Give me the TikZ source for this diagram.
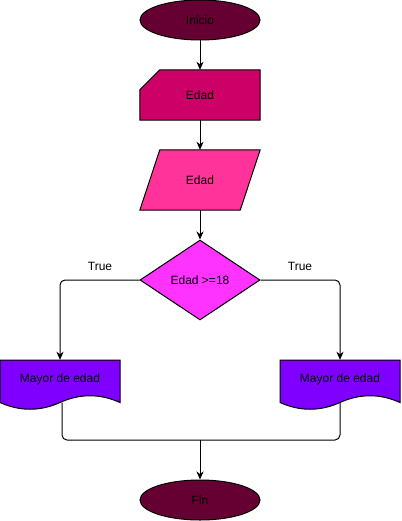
\documentclass[tikz,border=0pt]{standalone}
\usepackage{fontspec}
\setmainfont{Liberation Sans}
\usetikzlibrary{shapes.geometric,arrows.meta,calc}
\definecolor{cterm}{HTML}{660033}
\definecolor{ccard}{HTML}{CC0066}
\definecolor{cpara}{HTML}{FF3399}
\definecolor{cdia}{HTML}{FF33FF}
\definecolor{cdoc}{HTML}{7F00FF}
\tikzset{
  shp/.style={draw=black,line width=1pt},
  lbl/.style={font=\fontsize{12}{14}\selectfont,text=black,inner sep=0pt},
  box/.style={lbl,minimum width=120pt,inner sep=0pt},
  term/.style={box,ellipse,shp,fill=cterm,minimum height=40pt},
  decision/.style={box,diamond,shp,fill=cdia,minimum height=80pt},
  conn/.style={line width=1pt,draw=black},
  arr/.style={conn,-{Stealth[length=8pt,width=7pt,inset=2.5pt]}}
}
\begin{document}
\begin{tikzpicture}[x=1pt,y=-1pt]
\useasboundingbox (0,0) rectangle (401,521);
% terminals
\node[term] (inicio) at (200,20) {Inicio};
\node[term] (fin) at (200,500) {Fin};
% card (input)
\node[box,minimum height=50pt] (card) at (200,95) {};
\draw[shp,fill=ccard] (card.south west) -- (card.south east) -- (card.north east)
  -- ([xshift=20pt]card.north west) -- ([yshift=-20pt]card.north west) -- cycle;
\node[lbl] (cardt) at (card.center) {Edad};
% parallelogram
\node[box,minimum height=60pt] (para) at (200,180) {};
\draw[shp,fill=cpara] ([xshift=20pt]para.north west) -- (para.north east)
  -- ([xshift=-20pt]para.south east) -- (para.south west) -- cycle;
\node[lbl] (parat) at (para.center) {Edad};
% decision
\node[decision] (dia) at (200,280) {Edad >=18};
% documents
\node[box,minimum height=50pt] (docL) at (60,385) {};
\draw[shp,fill=cdoc] (0,360) -- (120,360) -- (120,402.5)
  .. controls (100,393.5) and (80,393.5) .. (60,402.5)
  .. controls (40,411.5) and (20,411.5) .. (0,402.5) -- cycle;
\node[lbl] (docLt) at (60,379) {Mayor de edad};
\node[box,minimum height=50pt] (docR) at (340,385) {};
\draw[shp,fill=cdoc] (280,360) -- (400,360) -- (400,402.5)
  .. controls (380,393.5) and (360,393.5) .. (340,402.5)
  .. controls (320,411.5) and (300,411.5) .. (280,402.5) -- cycle;
\node[lbl] (docRt) at (340,379) {Mayor de edad};
% labels
\node[lbl] (tL) at (100,266) {True};
\node[lbl] (tR) at (300,266) {True};
% coordinates
\coordinate (outL) at (62,402.5);
\coordinate (outR) at (340,402.5);
\coordinate (merge) at (200,440);
% connectors
\draw[arr] (inicio.south) -- (card.north);
\draw[arr] (card.south) -- (para.north);
\draw[arr] (para.south) -- (dia.north);
\draw[arr,rounded corners=5pt] (dia.west) -| (docL.north);
\draw[arr,rounded corners=5pt] (dia.east) -| (docR.north);
\draw[conn,rounded corners=5pt] (outL) |- (merge);
\draw[conn,rounded corners=5pt] (outR) |- (merge);
\draw[arr] (merge) -- (fin.north);
\end{tikzpicture}
\end{document}
